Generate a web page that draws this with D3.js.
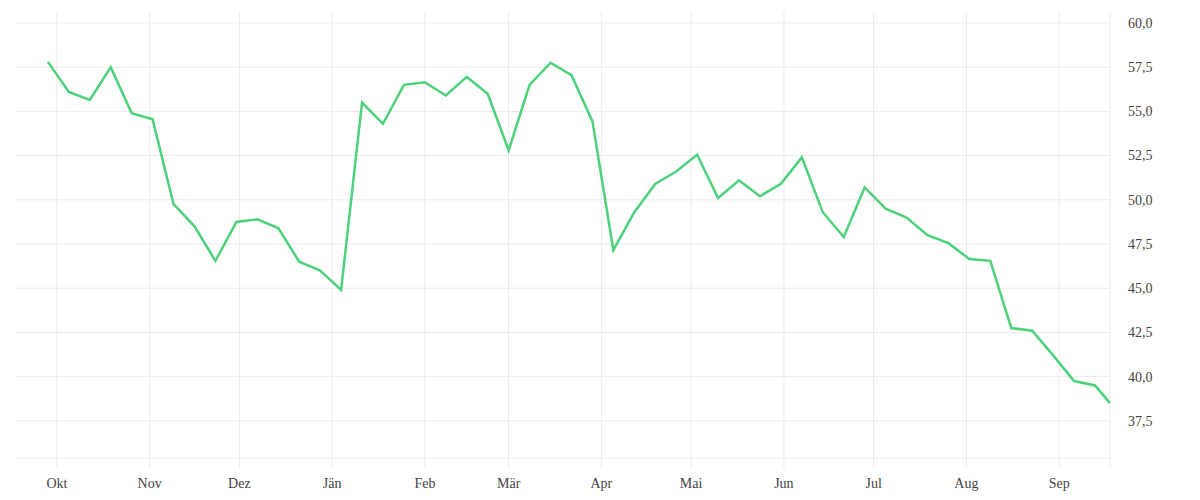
<!DOCTYPE html>
<html>
<head>
<meta charset="utf-8">
<script src="https://cdn.jsdelivr.net/npm/d3@7.8.5/dist/d3.min.js"></script>
<style>
  body { margin: 0; background: #fff; }
  svg text { font-family: "Liberation Serif", serif; font-size: 14px; fill: #444; }
</style>
</head>
<body>
<div id="chart"></div>
<script>
// weekly readings, last one a partial week
const dates = [
  "2022-09-28", "2022-10-05", "2022-10-12", "2022-10-19", "2022-10-26",
  "2022-11-02", "2022-11-09", "2022-11-16", "2022-11-23", "2022-11-30",
  "2022-12-07", "2022-12-14", "2022-12-21", "2022-12-28",
  "2023-01-04", "2023-01-11", "2023-01-18", "2023-01-25",
  "2023-02-01", "2023-02-08", "2023-02-15", "2023-02-22",
  "2023-03-01", "2023-03-08", "2023-03-15", "2023-03-22", "2023-03-29",
  "2023-04-05", "2023-04-12", "2023-04-19", "2023-04-26",
  "2023-05-03", "2023-05-10", "2023-05-17", "2023-05-24", "2023-05-31",
  "2023-06-07", "2023-06-14", "2023-06-21", "2023-06-28",
  "2023-07-05", "2023-07-12", "2023-07-19", "2023-07-26",
  "2023-08-02", "2023-08-09", "2023-08-16", "2023-08-23", "2023-08-30",
  "2023-09-06", "2023-09-13", "2023-09-18"
];
const values = [
  57.8, 56.1, 55.65, 57.5, 54.9,
  54.55, 49.75, 48.5, 46.55, 48.75,
  48.9, 48.4, 46.5, 46.0,
  44.9, 55.5, 54.3, 56.5,
  56.65, 55.9, 56.95, 56.0,
  52.8, 56.5, 57.75, 57.05, 54.45,
  47.15, 49.3, 50.9, 51.6,
  52.55, 50.1, 51.1, 50.2, 50.9,
  52.4, 49.3, 47.9, 50.7,
  49.5, 49.0, 48.0, 47.55,
  46.65, 46.55, 42.75, 42.6, 41.2,
  39.75, 39.5, 38.5
];
const monthNames = ["Jän", "Feb", "Mär", "Apr", "Mai", "Jun", "Jul", "Aug", "Sep", "Okt", "Nov", "Dez"];
const yTicks = [37.5, 40, 42.5, 45, 47.5, 50, 52.5, 55, 57.5, 60];
const xDomain = ["2022-09-17", "2023-09-18"];
const yDomain = [35.4, 60.62];

const width = 1200, height = 500;
const plot = { left: 15, right: 1110, top: 12, bottom: 458 };

const parse = d3.timeParse("%Y-%m-%d");
const data = dates.map((d, i) => ({ date: parse(d), value: values[i] }));

const x = d3.scaleTime().domain(xDomain.map(parse)).range([plot.left, plot.right]);
const y = d3.scaleLinear().domain(yDomain).range([plot.bottom, plot.top]);

const svg = d3.select("#chart").append("svg")
    .attr("width", width)
    .attr("height", height);

// horizontal grid
svg.append("g")
    .selectAll("line")
    .data(yTicks)
    .enter()
    .append("line")
    .attr("x1", plot.left)
    .attr("x2", plot.right)
    .attr("y1", d => y(d))
    .attr("y2", d => y(d))
    .attr("stroke", "#ebebeb")
    .attr("stroke-width", 1);

// bottom edge
svg.append("line")
    .attr("x1", plot.left).attr("x2", plot.right)
    .attr("y1", plot.bottom).attr("y2", plot.bottom)
    .attr("stroke", "#ebebeb");

// month grid + labels
const months = x.ticks(d3.timeMonth.every(1));
const xAxis = svg.append("g");
xAxis.selectAll("line")
    .data(months)
    .enter()
    .append("line")
    .attr("x1", d => x(d))
    .attr("x2", d => x(d))
    .attr("y1", plot.top)
    .attr("y2", plot.bottom + 10)
    .attr("stroke", "#ebebeb");
xAxis.selectAll("text")
    .data(months)
    .enter()
    .append("text")
    .attr("x", d => x(d))
    .attr("y", 488)
    .attr("text-anchor", "middle")
    .text(d => monthNames[d.getMonth()]);

// right edge
svg.append("line")
    .attr("x1", plot.right).attr("x2", plot.right)
    .attr("y1", plot.top).attr("y2", plot.bottom + 10)
    .attr("stroke", "#ebebeb");

// y labels on the right
const fmt = d3.formatLocale({ decimal: ",", thousands: ".", grouping: [3], currency: ["", " €"] }).format(".1f");
svg.append("g")
    .selectAll("text")
    .data(yTicks)
    .enter()
    .append("text")
    .attr("x", 1128)
    .attr("y", d => y(d))
    .attr("dy", "0.35em")
    .text(d => fmt(d));

// line
const line = d3.line()
    .x(d => x(d.date))
    .y(d => y(d.value));

svg.append("path")
    .datum(data)
    .attr("fill", "none")
    .attr("stroke", "#4cd27a")
    .attr("stroke-width", 2.5)
    .attr("stroke-linejoin", "miter")
    .attr("d", line);
</script>
</body>
</html>
